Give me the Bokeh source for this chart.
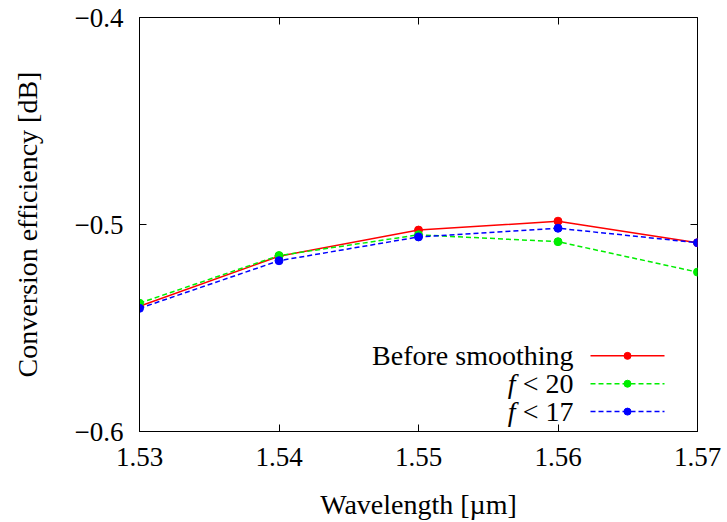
from bokeh.plotting import figure
from bokeh.models import LinearAxis, FixedTicker, Label, Range1d
from bokeh.embed import file_html
from bokeh.resources import INLINE

wavelength = [1.53, 1.54, 1.55, 1.56, 1.57]
before = [-0.5395, -0.5153, -0.5027, -0.4984, -0.5088]
f20 = [-0.5380, -0.5150, -0.5050, -0.5083, -0.5230]
f17 = [-0.5405, -0.5175, -0.5060, -0.5018, -0.5088]

x_ticks = [1.53, 1.54, 1.55, 1.56, 1.57]
y_ticks = [-0.6, -0.5, -0.4]
y_tick_labels = ["\u22120.6", "\u22120.5", "\u22120.4"]

series_names = ["Before smoothing", "< 20", "< 17"]
series_colors = ["#ff0000", "#00ee00", "#0000ff"]
series_dash = ["solid", "5 3", "5 3"]

FONT = "Liberation Serif"
W, H = 727, 522
L, R, T, B = 139, 30, 17, 89

x0, x1 = 1.53, 1.57
y0, y1 = -0.6, -0.4

p = figure(width=W, height=H, output_backend="svg", toolbar_location=None,
           x_range=Range1d(x0, x1), y_range=Range1d(y0, y1),
           min_border_left=L, min_border_right=R, min_border_top=T, min_border_bottom=B)
p.grid.visible = False
p.outline_line_color = "black"
p.outline_line_width = 1
p.background_fill_color = "white"
p.border_fill_color = "white"

for ax in [p.xaxis[0], p.yaxis[0]]:
    ax.major_tick_in = 7
    ax.major_tick_out = 0
    ax.minor_tick_line_color = None
    ax.major_label_text_font = FONT
    ax.major_label_text_font_size = "27px"
    ax.axis_label_text_font = FONT
    ax.axis_label_text_font_size = "28px"
    ax.axis_label_text_font_style = "normal"
    ax.axis_line_color = "black"
    ax.major_label_text_color = "black"
    ax.axis_label_text_color = "black"

p.xaxis[0].ticker = FixedTicker(ticks=x_ticks)
p.yaxis[0].ticker = FixedTicker(ticks=y_ticks)
p.yaxis[0].major_label_overrides = {t: s for t, s in zip(y_ticks, y_tick_labels)}
p.xaxis[0].axis_label = "Wavelength [\u00b5m]"
p.yaxis[0].axis_label = "Conversion efficiency [dB]"
p.xaxis[0].major_label_standoff = 16
p.yaxis[0].major_label_standoff = 16
p.xaxis[0].axis_label_standoff = 20
p.yaxis[0].axis_label_standoff = 29

# mirrored ticks
ra = LinearAxis(ticker=FixedTicker(ticks=y_ticks), major_tick_in=7, major_tick_out=0,
                minor_tick_line_color=None, major_label_text_font_size="1px",
                major_label_text_color=None, axis_line_color=None)
ta = LinearAxis(ticker=FixedTicker(ticks=x_ticks), major_tick_in=7, major_tick_out=0,
                minor_tick_line_color=None, major_label_text_font_size="1px",
                major_label_text_color=None, axis_line_color=None)
p.add_layout(ra, "right")
p.add_layout(ta, "above")

for ys, c, d in zip([before, f20, f17], series_colors, series_dash):
    p.line(wavelength, ys, line_color=c, line_width=1.5, line_dash=d)
    p.scatter(wavelength, ys, size=8, fill_color=c, line_color=c)

# manual legend (text on the left, sample on the right)
pw = W - L - R
ph = H - T - B
def dx(px):
    return x0 + (px - L) / pw * (x1 - x0)
def dy(py):
    return y1 - (py - T) / ph * (y1 - y0)

rows_py = [357, 385, 413]
for i, (name, c, d) in enumerate(zip(series_names, series_colors, series_dash)):
    yy = dy(rows_py[i])
    p.line([dx(590), dx(664)], [yy, yy], line_color=c, line_width=1.5, line_dash=d)
    p.scatter([dx(627)], [yy], size=7, fill_color=c, line_color=c)
    p.add_layout(Label(x=dx(573), y=yy, text=name, text_align="right",
                       text_baseline="middle", text_font=FONT, text_font_size="28px",
                       text_color="black"))
    if i > 0:
        p.add_layout(Label(x=dx(515), y=yy, text="f", text_align="right",
                           text_baseline="middle", text_font=FONT, text_font_size="28px",
                           text_font_style="italic", text_color="black"))

open("out.html", "w").write(file_html(p, INLINE))
